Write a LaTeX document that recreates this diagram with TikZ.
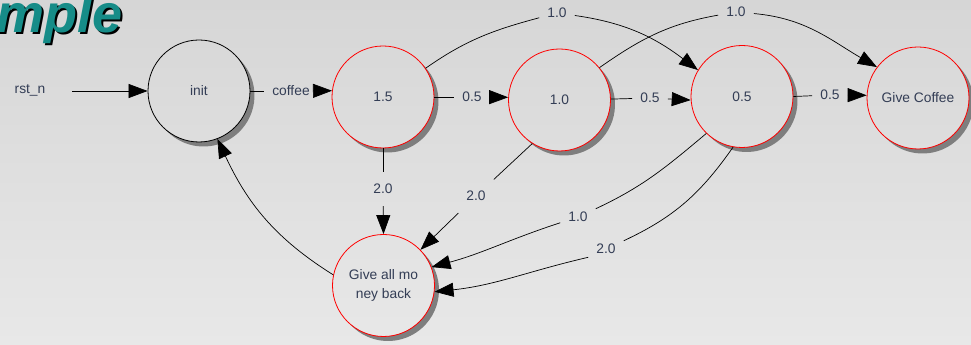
\documentclass[tikz,border=0pt]{standalone}
\usepackage{fontspec}
\setmainfont{Liberation Sans}
\usetikzlibrary{arrows.meta}
\definecolor{bgtop}{HTML}{D6D6D6}
\definecolor{bgbot}{HTML}{E8E8E8}
\definecolor{txtc}{HTML}{333D55}
\definecolor{titlec}{HTML}{168C88}
\definecolor{shadowc}{HTML}{7E7E7E}
\begin{document}
\begin{tikzpicture}[x=1pt,y=1pt,
  txtfont/.style={font=\fontsize{13.8}{19}\selectfont, text=txtc},
  fsm/.style={circle, draw=red, line width=0.8pt, minimum size=102pt,
    inner sep=0pt, txtfont, align=center},
  lab/.style={txtfont, inner xsep=8pt, inner ysep=12pt},
  conn/.style={black, line width=0.7pt},
  arr/.style={conn, -{Triangle[length=19pt,width=14pt]}},
  titlefont/.style={font=\fontsize{54}{54}\selectfont\bfseries\itshape}
]
\useasboundingbox (0,0) rectangle (971,345);
\clip (0,0) rectangle (971,345);
\shade[top color=bgtop, bottom color=bgbot] (0,0) rectangle (971,345);

% heading fragment with drop shadow
\node[titlefont, anchor=base west, text=black, inner sep=0pt] (ttlshadow) at (-1.5,310) {mple};
\node[titlefont, anchor=base west, text=titlec, inner sep=0pt] (ttl) at (-3.5,312) {mple};

% state centres
\coordinate (pinit) at (199,254);
\coordinate (pn15) at (383,248);
\coordinate (pn10) at (559.5,245);
\coordinate (pn05) at (742,248.5);
\coordinate (pngc) at (918,247);
\coordinate (pnback) at (383.5,59.5);

% drop shadows: the crescent of the offset disc that lies outside each state
\foreach \p in {init,n15,n10,n05,ngc,nback}
  \fill[shadowc] ([shift={(4.5,-4.5)}]p\p) ++(48.6:51)
    arc[start angle=48.6, end angle=-138.6, radius=51]
    arc[start angle=-131.4, end angle=41.4, radius=51] -- cycle;

% states
\node[fsm, draw=black] (init) at (pinit) {init};
\node[fsm] (n15) at (pn15) {1.5};
\node[fsm] (n10) at (pn10) {1.0};
\node[fsm] (n05) at (pn05) {0.5};
\node[fsm] (ngc) at (pngc) {Give Coffee};
\node[fsm] (nback) at (pnback) {Give all mo\\ney back};

% reset input
\node[txtfont] (rst) at (30,255) {rst\_n};
\coordinate (rstend) at (72,254);
\draw[arr] (rstend) -- (init.west);

% transition labels
\node[lab] (lcoffee) at (291,254) {coffee};
\node[lab] (l15a) at (472,248) {0.5};
\node[lab] (l10a) at (650,247) {0.5};
\node[lab] (l05a) at (830,250) {0.5};
\node[lab] (ltop1) at (557,332) {1.0};
\node[lab] (ltop2) at (736,333) {1.0};
\node[lab] (l15b) at (383,156) {2.0};
\node[lab] (l10b) at (476,149) {2.0};
\node[lab] (l05b) at (578,128) {1.0};
\node[lab] (l05c) at (606,96) {2.0};

% transitions along the top row
\draw[conn] (init.east) -- (lcoffee);
\draw[arr] (lcoffee) -- (n15.173);
\draw[conn] (n15.east) -- (l15a);
\draw[arr] (l15a) -- (n10.177);
\draw[conn] (n10.1) -- (l10a);
\draw[arr] (l10a) -- (n05.184);
\draw[conn] (n05.east) -- (l05a);
\draw[arr] (l05a) -- (ngc.177);

% arcs over the top row
\draw[conn] (n15.34) to[out=35,in=195] (ltop1);
\draw[arr] (ltop1) to[out=-8,in=143] (n05.149);
\draw[conn] (n10.39) to[out=35,in=190] (ltop2);
\draw[arr] (ltop2) to[out=-5,in=150] (ngc.143);

% refunds
\draw[conn] (n15.south) -- (l15b);
\draw[arr] (l15b) -- (nback.north);
\draw[conn] (n10.-122.6) -- (l10b);
\draw[arr] (l10b) -- (nback.44);
\draw[conn] (n05.-134) to[out=-140,in=25] (l05b);
\draw[arr] (l05b) to[out=198,in=15] (nback.21);
\draw[conn] (n05.-100) to[out=-125,in=25] (l05c);
\draw[arr] (l05c.205) to[out=193,in=6] (nback.-7.5);

% back to idle
\draw[arr] (nback.168) to[out=148,in=-65] (init.-69);
\end{tikzpicture}
\end{document}
